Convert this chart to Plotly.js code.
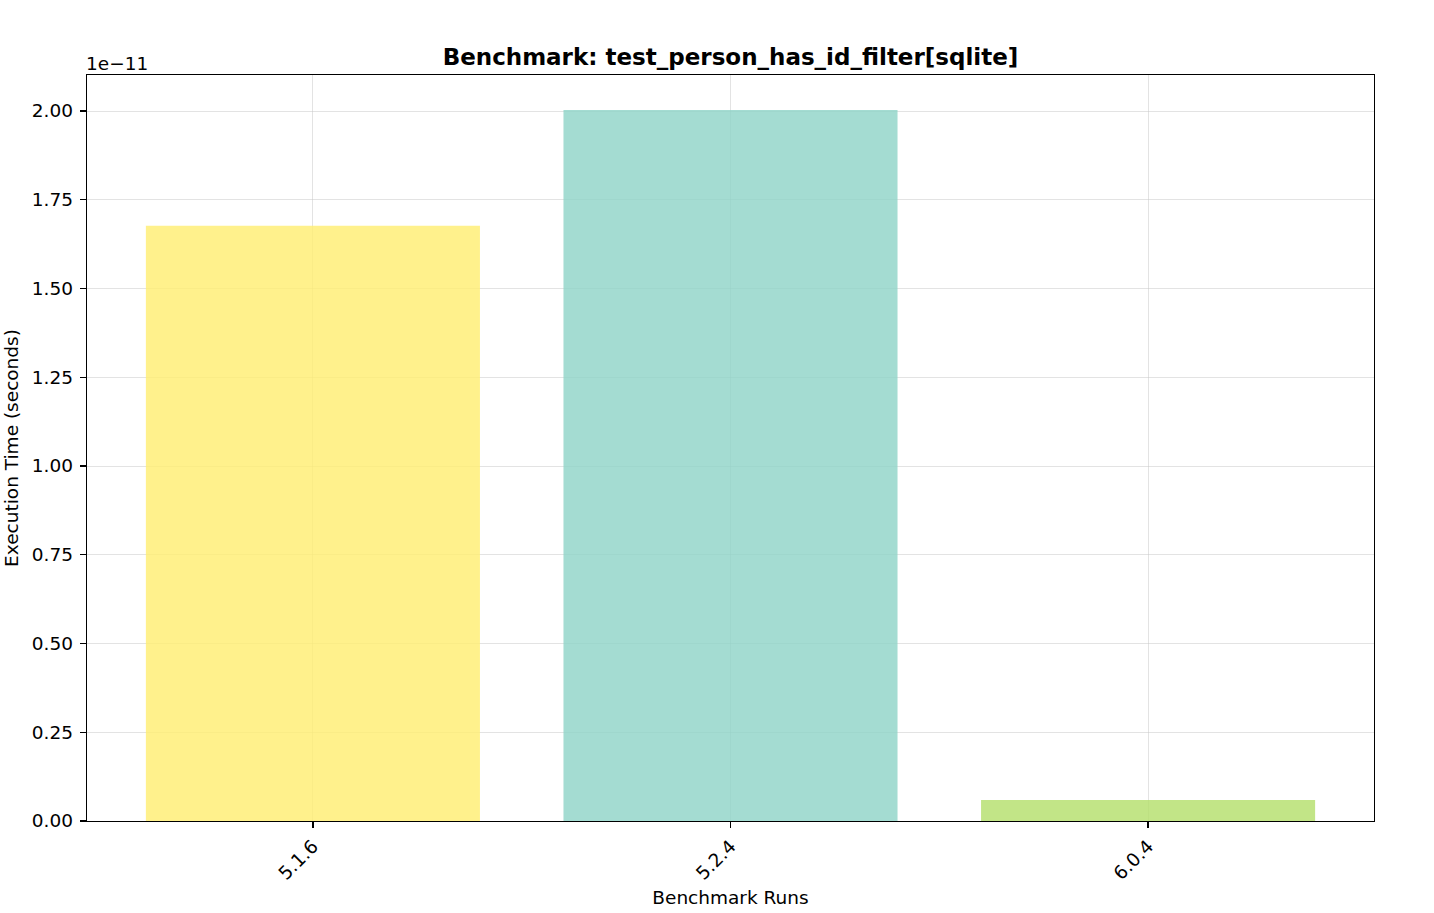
<!DOCTYPE html>
<html>
<head>
<meta charset="utf-8">
<script src="https://cdn.plot.ly/plotly-3.0.1.min.js"></script>
<style>html,body{margin:0;padding:0;background:#fff;}#chart{width:1434px;height:913px;}</style>
</head>
<body>
<div id="chart"></div>
<script>
const categories = ["5.1.6", "5.2.4", "6.0.4"];
const times = [1.677e-11, 2.003e-11, 0.059e-11];
const barColors = ["rgba(255,237,111,0.8)", "rgba(141,211,199,0.8)", "rgba(179,222,105,0.8)"];
const yTickValues = [0, 0.25, 0.5, 0.75, 1.0, 1.25, 1.5, 1.75, 2.0];
const scale = 1e-11;

const font = "DejaVu Sans, sans-serif";
const fs = 18.5;
const trace = {
  type: "bar",
  x: [0, 1, 2],
  y: times.map(v => v / scale),
  width: 0.8,
  marker: {color: barColors, line: {width: 0}},
  hoverinfo: "skip"
};
const layout = {
  width: 1434, height: 913,
  margin: {l: 87, r: 60, t: 75, b: 92},
  paper_bgcolor: "#fff", plot_bgcolor: "#fff",
  showlegend: false,
  font: {family: font, size: fs, color: "#000"},
  title: {text: "<b>Benchmark: test_person_has_id_filter[sqlite]</b>", font: {family: font, size: 23, color: "#000"}, xref: "paper", x: 0.5, xanchor: "center", y: 0.9376, yanchor: "middle"},
  xaxis: {
    range: [-0.541, 2.541],
    tickvals: [0, 1, 2], ticktext: categories,
    tickangle: -45,
    ticks: "outside", ticklen: 6, tickwidth: 1.2, tickcolor: "#000",
    showgrid: true, gridcolor: "rgba(200,200,200,0.5)", gridwidth: 1,
    showline: true, linecolor: "#000", linewidth: 1.3, mirror: true,
    zeroline: false, automargin: false,
    tickfont: {family: font, size: fs},
    title: {text: "Benchmark Runs", font: {family: font, size: fs}, standoff: 8}
  },
  yaxis: {
    range: [0, 2.1014],
    tickvals: yTickValues, ticktext: yTickValues.map(v => v.toFixed(2)),
    ticks: "outside", ticklen: 6, tickwidth: 1.2, tickcolor: "#000",
    ticklabelstandoff: 3,
    showgrid: true, gridcolor: "rgba(200,200,200,0.5)", gridwidth: 1,
    showline: true, linecolor: "#000", linewidth: 1.3, mirror: true,
    zeroline: false, automargin: false,
    tickfont: {family: font, size: fs},
    title: {text: "Execution Time (seconds)", font: {family: font, size: fs}, standoff: 8}
  },
  annotations: [{
    text: "1e\u221211", xref: "paper", yref: "paper", x: 0, y: 1, xanchor: "left", yanchor: "bottom",
    showarrow: false, font: {family: font, size: fs}, xshift: -3, yshift: -1
  }]
};
Plotly.newPlot("chart", [trace], layout, {displayModeBar: false, staticPlot: true});
</script>
</body>
</html>
